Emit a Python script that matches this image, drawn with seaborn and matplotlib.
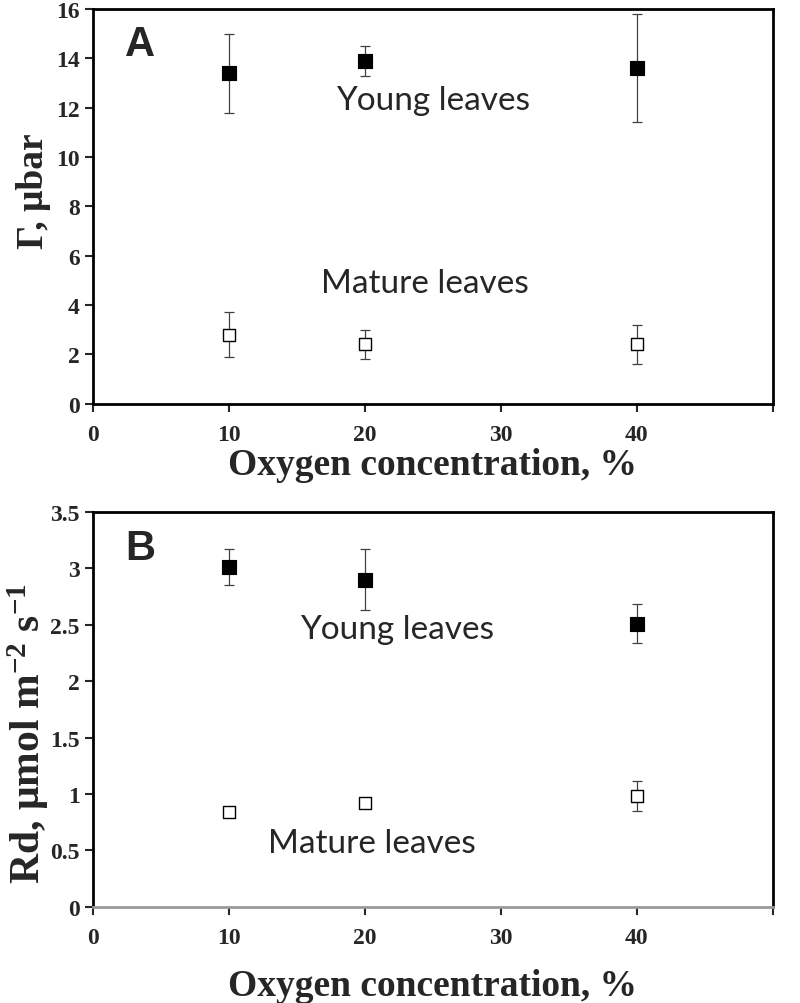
import numpy as np
import pandas as pd
import seaborn as sns
import matplotlib.pyplot as plt

# oxygen levels (%)
oxygen = [10, 20, 40]

# panel A: CO2 compensation point, ubar
gamma_young = [13.4, 13.9, 13.6]
gamma_young_err = [1.6, 0.6, 2.2]
gamma_mature = [2.8, 2.4, 2.4]
gamma_mature_err = [0.9, 0.6, 0.8]

# panel B: dark respiration, umol m-2 s-1
rd_young = [3.01, 2.90, 2.51]
rd_young_err = [0.16, 0.27, 0.17]
rd_mature = [0.84, 0.92, 0.98]
rd_mature_err = [0.0, 0.0, 0.13]

sns.set_style('white')
plt.rcParams['font.family'] = ['Liberation Serif', 'DejaVu Serif']
plt.rcParams['mathtext.fontset'] = 'custom'
plt.rcParams['mathtext.rm'] = 'Liberation Serif:bold'
plt.rcParams['mathtext.bf'] = 'Liberation Serif:bold'
plt.rcParams['mathtext.it'] = 'Liberation Serif:bold'

fig = plt.figure(figsize=(8, 10.04), dpi=100)
axA = fig.add_axes([0.116, 0.597, 0.85, 0.393])
axB = fig.add_axes([0.116, 0.096, 0.85, 0.393])

panels = [
    (axA, gamma_young, gamma_young_err, gamma_mature, gamma_mature_err,
     (0, 16), np.arange(0, 17, 2), [str(v) for v in range(0, 17, 2)],
     'Γ, μbar', 27, 0.54, 'A', 14.6, (25, 12.3), (24.4, 4.9), 1),
    (axB, rd_young, rd_young_err, rd_mature, rd_mature_err,
     (0, 3.5), np.arange(0, 3.6, 0.5), ['0', '0.5', '1', '1.5', '2', '2.5', '3', '3.5'],
     r'Rd, μmol m$^{\mathrm{-2}}$ s$^{\mathrm{-1}}$', 30, 0.44, 'B', 3.18, (22.4, 2.46), (20.5, 0.56), 14),
]

for ax, yv, ye, mv, me, ylim, yt, ytl, ylab, ysize, ylab_y, tag, tag_y, ypos, mpos, xpad in panels:
    df = pd.DataFrame({'oxygen': oxygen * 2, 'value': yv + mv,
                       'leaf': ['Young'] * 3 + ['Mature'] * 3})
    ax.errorbar(oxygen, yv, yerr=ye, fmt='none', ecolor='#404040', elinewidth=0.9,
                capsize=3.5, capthick=0.9, zorder=1)
    ax.errorbar(oxygen, mv, yerr=me, fmt='none', ecolor='#404040', elinewidth=0.9,
                capsize=3.5, capthick=0.9, zorder=1)
    sns.scatterplot(data=df[df.leaf == 'Young'], x='oxygen', y='value', ax=ax,
                    marker='s', s=105, color='black', edgecolor='black', zorder=3)
    sns.scatterplot(data=df[df.leaf == 'Mature'], x='oxygen', y='value', ax=ax,
                    marker='s', s=85, facecolor='white', edgecolor='black',
                    linewidth=1.0, zorder=3)

    ax.set_xlim(0, 50)
    ax.set_ylim(*ylim)
    ax.set_xticks([0, 10, 20, 30, 40, 50])
    ax.set_xticklabels(['0', '10', '20', '30', '40', ''])
    ax.set_yticks(yt)
    ax.set_yticklabels(ytl)
    ax.tick_params(axis='both', direction='out', length=6, width=1.5,
                   labelsize=17, bottom=True, left=True)
    ax.tick_params(axis='x', pad=9)
    for t in ax.get_xticklabels() + ax.get_yticklabels():
        t.set_fontweight('bold')
    for s in ax.spines.values():
        s.set_linewidth(2)
        s.set_color('black')
    ax.set_xlabel('Oxygen concentration, %', fontsize=27, fontweight='bold', labelpad=xpad)
    ax.set_ylabel(ylab, fontsize=ysize, fontweight='bold')
    ax.yaxis.set_label_coords(-0.062, ylab_y)

    ax.text(3.5, tag_y, tag, fontsize=30, fontweight='bold',
            family='Liberation Sans', ha='center', va='center')
    ax.text(ypos[0], ypos[1], 'Young leaves', fontsize=24, family='Lato',
            ha='center', va='center')
    ax.text(mpos[0], mpos[1], 'Mature leaves', fontsize=24, family='Lato',
            ha='center', va='center')

axB.spines['bottom'].set_color('#9a9a9a')

fig.savefig('out.png', dpi=100)
